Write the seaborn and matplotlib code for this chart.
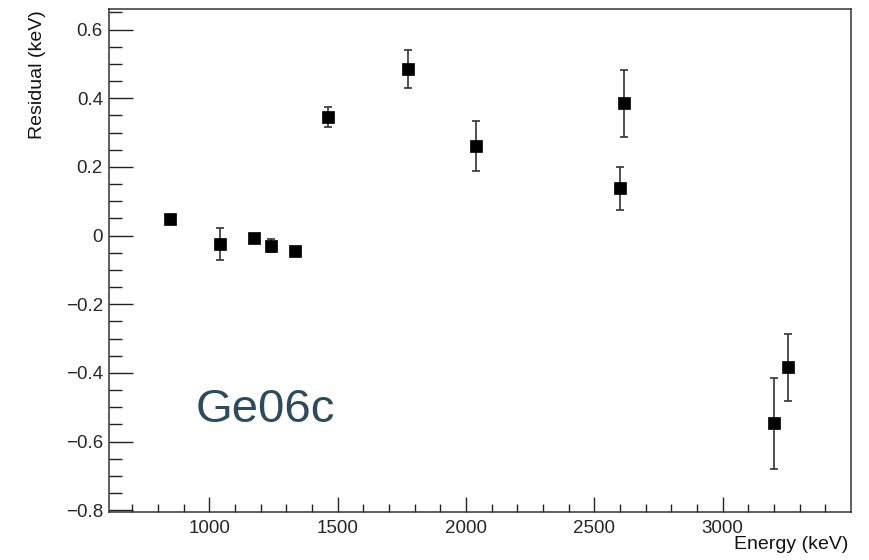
import numpy as np
import pandas as pd
import matplotlib
matplotlib.use("Agg")
import matplotlib.pyplot as plt
from matplotlib.ticker import MultipleLocator, FixedLocator, FuncFormatter
import seaborn as sns

# Calibration residuals per gamma line
energy = [848, 1040, 1173, 1242, 1333, 1463, 1773, 2038, 2600, 2615, 3200, 3253]
residual = [0.048, -0.025, -0.006, -0.029, -0.045, 0.346, 0.485, 0.261,
            0.138, 0.385, -0.547, -0.384]
residual_err = [0.010, 0.046, 0.010, 0.020, 0.010, 0.030, 0.055, 0.073,
                0.062, 0.097, 0.133, 0.097]
detector = "Ge06c"

df = pd.DataFrame({"energy": energy, "residual": residual, "err": residual_err})

sns.set_theme(style="ticks")
plt.rcParams["font.family"] = ["Liberation Sans", "DejaVu Sans"]

fig = plt.figure(figsize=(8.69, 5.60), dpi=100)
ax = fig.add_axes([108.5 / 869, 1 - 511.7 / 560, (850.7 - 108.5) / 869, (511.7 - 8.7) / 560])

ax.errorbar(df["energy"], df["residual"], yerr=df["err"], fmt="none",
            ecolor="#333333", elinewidth=1.2, capsize=3.2, capthick=1.2, zorder=2)
sns.scatterplot(data=df, x="energy", y="residual", ax=ax, marker="s", s=68,
                color="black", edgecolor="black", linewidth=0.5, zorder=3, legend=False)

ax.set_xlim(607, 3499)
ax.set_ylim(-0.804, 0.661)

ax.xaxis.set_major_locator(FixedLocator([1000, 1500, 2000, 2500, 3000]))
ax.xaxis.set_minor_locator(MultipleLocator(100))
ax.yaxis.set_major_locator(FixedLocator([-0.8, -0.6, -0.4, -0.2, 0, 0.2, 0.4, 0.6]))
ax.yaxis.set_minor_locator(MultipleLocator(0.05))


def fmt_y(v, pos):
    if abs(v) < 1e-9:
        return "0"
    return f"{v:.1f}".replace("-", "\u2212")


ax.yaxis.set_major_formatter(FuncFormatter(fmt_y))
ax.xaxis.set_major_formatter(FuncFormatter(lambda v, p: f"{int(round(v))}"))

ax.tick_params(axis="y", which="major", direction="in", length=17, width=1.0,
               color="#222222", labelsize=13.5, pad=4, left=True, right=False)
ax.tick_params(axis="y", which="minor", direction="in", length=9, width=1.0,
               color="#222222", left=True, right=False)
ax.tick_params(axis="x", which="major", direction="in", length=11, width=1.0,
               color="#222222", labelsize=13.5, pad=6, bottom=True, top=False)
ax.tick_params(axis="x", which="minor", direction="in", length=6, width=1.0,
               color="#222222", bottom=True, top=False)

for side in ["left", "right", "top", "bottom"]:
    ax.spines[side].set_visible(True)
    ax.spines[side].set_linewidth(1.1)
    ax.spines[side].set_color("#333333")

ax.set_xlabel("")
ax.set_ylabel("")
fig.text(848 / 869, 1 - 553 / 560, "Energy (keV)", ha="right", va="bottom",
         fontsize=14, color="#111111")
fig.text(37 / 869, 1 - 10 / 560, "Residual (keV)", ha="center", va="top",
         rotation=90, fontsize=14, color="#111111")

fig.text(196 / 869, 1 - 421.7 / 560, detector, ha="left", va="baseline",
         fontsize=34, color="#2e4b5e")

fig.savefig("out.png", dpi=100, facecolor="white")
